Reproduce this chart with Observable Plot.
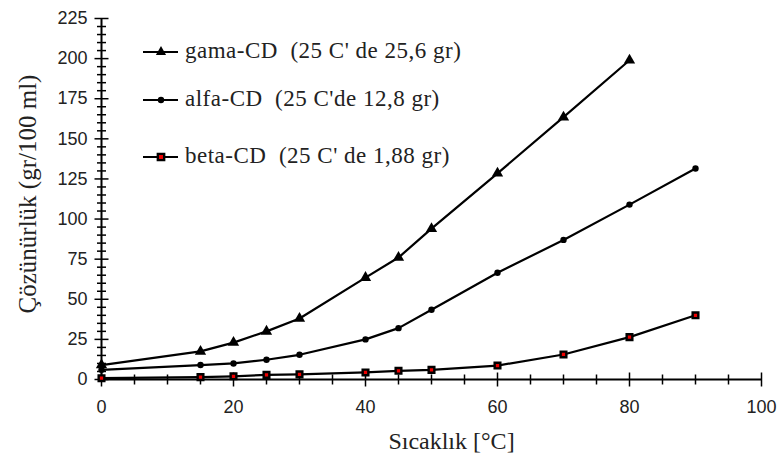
<!DOCTYPE html>
<html><head><meta charset="utf-8">
<script src="https://cdn.jsdelivr.net/npm/d3@7"></script>
<script src="https://cdn.jsdelivr.net/npm/@observablehq/plot@0.6"></script>
<style>body{margin:0;background:#fff}</style>
</head><body><div id="chart"></div>
<script>
const temps = [0, 15, 20, 25, 30, 40, 45, 50, 60, 70, 80, 90];
const gamaTemps = [0, 15, 20, 25, 30, 40, 45, 50, 60, 70, 80];
const gamaValues = [9, 17.5, 23, 30, 38, 63.5, 76, 94, 128.5, 163.5, 199];
const alfaValues = [6, 9, 10, 12.3, 15.4, 25, 32, 43.5, 66.5, 87, 109, 131.5];
const betaValues = [0.8, 1.5, 2, 2.9, 3.2, 4.4, 5.4, 6, 8.7, 15.6, 26.4, 40];
const seriesNames = ["gama-CD  (25 C' de 25,6 gr)", "alfa-CD  (25 C'de 12,8 gr)", "beta-CD  (25 C' de 1,88 gr)"];
const xMajor = [0, 20, 40, 60, 80, 100];
const xMinor = d3.range(0, 101, 5).filter(v => v % 20 !== 0);
const yMajor = d3.range(0, 226, 25);
const yMinor = d3.range(0, 226, 5).filter(v => v % 25 !== 0);
const xTitle = "Sıcaklık [°C]";
const yTitle = "Çözünürlük (gr/100 ml)";

const gama = gamaTemps.map((t, i) => ({t, v: gamaValues[i]}));
const alfa = temps.map((t, i) => ({t, v: alfaValues[i]}));
const beta = temps.map((t, i) => ({t, v: betaValues[i]}));

const tickFont = "'Liberation Sans', Arial, sans-serif";
const serif = "'Liberation Serif', 'Times New Roman', serif";

// crossing tick symbols
const hTick = {draw(ctx, size) { const r = Math.sqrt(size / Math.PI); ctx.moveTo(-r, 0); ctx.lineTo(r, 0); }};
const vTick = {draw(ctx, size) { const r = Math.sqrt(size / Math.PI); ctx.moveTo(0, -r); ctx.lineTo(0, r); }};

const chart = Plot.plot({
  width: 777, height: 465,
  marginLeft: 101, marginRight: 16, marginTop: 18, marginBottom: 86,
  x: {domain: [0, 100]},
  y: {domain: [0, 225]},
  style: {background: "white", color: "black"},
  marks: [
    Plot.dot(xMinor, {x: d => d, frameAnchor: "bottom", symbol: vTick, r: 5, stroke: "black", strokeWidth: 1.5}),
    Plot.dot(xMajor, {x: d => d, frameAnchor: "bottom", symbol: vTick, r: 7, stroke: "black", strokeWidth: 1.5}),
    Plot.axisX(xMajor, {tickSize: 0, tickPadding: 21, fontFamily: tickFont, fontSize: 18, fill: "#222", label: null}),
    Plot.dot(yMinor, {y: d => d, frameAnchor: "left", symbol: hTick, r: 4.5, stroke: "black", strokeWidth: 1.5}),
    Plot.dot(yMajor, {y: d => d, frameAnchor: "left", symbol: hTick, r: 7, stroke: "black", strokeWidth: 1.5}),
    Plot.axisY(yMajor, {tickSize: 0, tickPadding: 14, fontFamily: tickFont, fontSize: 18, fill: "#222", label: null}),
    Plot.ruleY([0], {strokeWidth: 2}),
    Plot.ruleX([0], {strokeWidth: 2}),
    Plot.line(gama, {x: "t", y: "v", stroke: "black", strokeWidth: 2.2}),
    Plot.line(alfa, {x: "t", y: "v", stroke: "black", strokeWidth: 2.2}),
    Plot.line(beta, {x: "t", y: "v", stroke: "black", strokeWidth: 2.2}),
    Plot.dot(gama, {x: "t", y: "v", symbol: "triangle", r: 4.2, fill: "black", stroke: "none"}),
    Plot.dot(alfa, {x: "t", y: "v", symbol: "circle", r: 3.2, fill: "black", stroke: "none"}),
    Plot.dot(beta, {x: "t", y: "v", symbol: "square", r: 3.2, fill: "#e00", stroke: "black", strokeWidth: 2.4}),
    Plot.text([xTitle], {frameAnchor: "bottom", textAnchor: "middle", dy: 69, dx: 20, fontFamily: serif, fontSize: 24, fill: "#222"}),
    Plot.text([yTitle], {frameAnchor: "left", textAnchor: "middle", dx: -74, dy: -5, rotate: -90, fontFamily: serif, fontSize: 25, fill: "#222"})
  ]
});
document.getElementById("chart").appendChild(chart);

// Legend drawn inside the same SVG
const svg = d3.select(chart);
const leg = svg.append("g").attr("font-family", serif).attr("font-size", 23).attr("fill", "#222").attr("text-anchor", "start");
const rowsY = [52, 100, 157];
const symbols = [d3.symbolTriangle, d3.symbolCircle, d3.symbolSquare];
const symSizes = [45, 32, 40];
seriesNames.forEach((name, i) => {
  const y = rowsY[i];
  leg.append("line").attr("x1", 143).attr("x2", 178).attr("y1", y).attr("y2", y).attr("stroke", "black").attr("stroke-width", 2.2);
  leg.append("path").attr("d", d3.symbol().type(symbols[i]).size(symSizes[i])()).attr("transform", `translate(161,${y})`)
    .attr("fill", i === 2 ? "#e00" : "black")
    .attr("stroke", i === 2 ? "black" : "none")
    .attr("stroke-width", 2.4);
  leg.append("text").attr("x", 185).attr("y", y + 6).attr("text-anchor", "start")
    .style("white-space", "pre").style("letter-spacing", "0.5px").text(name);
});
</script>
</body></html>
